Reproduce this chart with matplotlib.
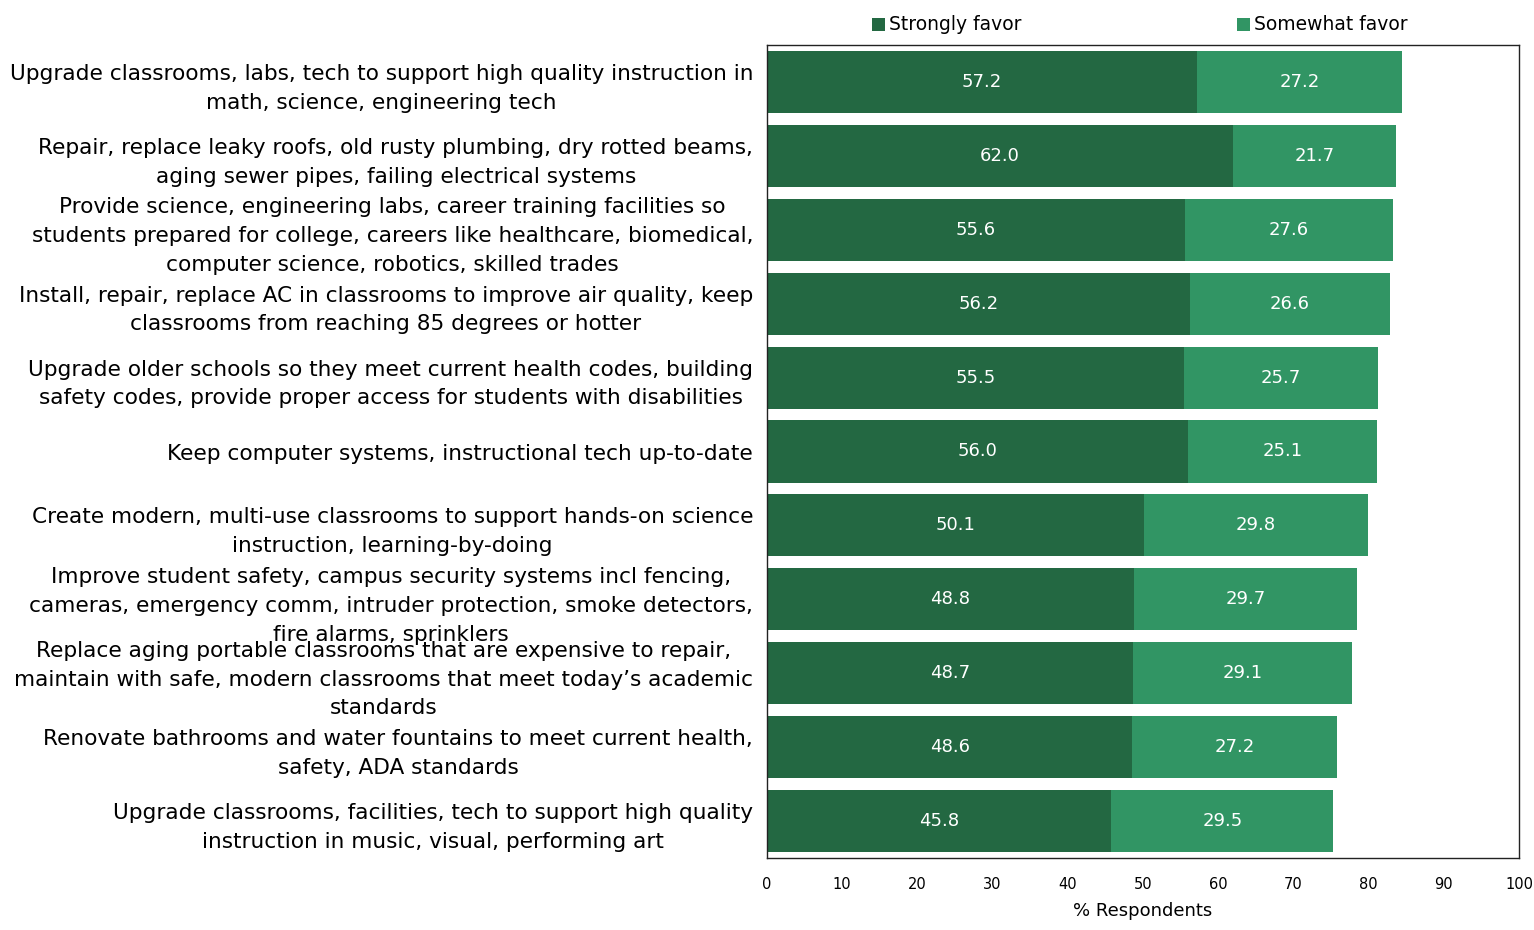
import matplotlib
matplotlib.use("Agg")
import matplotlib.pyplot as plt
from matplotlib.patches import Rectangle

categories = [
    "Upgrade classrooms, labs, tech to support high quality instruction in\nmath, science, engineering tech",
    "Repair, replace leaky roofs, old rusty plumbing, dry rotted beams,\naging sewer pipes, failing electrical systems",
    "Provide science, engineering labs, career training facilities so\nstudents prepared for college, careers like healthcare, biomedical,\ncomputer science, robotics, skilled trades",
    "Install, repair, replace AC in classrooms to improve air quality, keep\nclassrooms from reaching 85 degrees or hotter",
    "Upgrade older schools so they meet current health codes, building\nsafety codes, provide proper access for students with disabilities",
    "Keep computer systems, instructional tech up-to-date",
    "Create modern, multi-use classrooms to support hands-on science\ninstruction, learning-by-doing",
    "Improve student safety, campus security systems incl fencing,\ncameras, emergency comm, intruder protection, smoke detectors,\nfire alarms, sprinklers",
    "Replace aging portable classrooms that are expensive to repair,\nmaintain with safe, modern classrooms that meet today\u2019s academic\nstandards",
    "Renovate bathrooms and water fountains to meet current health,\nsafety, ADA standards",
    "Upgrade classrooms, facilities, tech to support high quality\ninstruction in music, visual, performing art",
]
strongly = [57.2, 62.0, 55.6, 56.2, 55.5, 56.0, 50.1, 48.8, 48.7, 48.6, 45.8]
somewhat = [27.2, 21.7, 27.6, 26.6, 25.7, 25.1, 29.8, 29.7, 29.1, 27.2, 29.5]
series_names = ["Strongly favor", "Somewhat favor"]
x_ticks = [0, 10, 20, 30, 40, 50, 60, 70, 80, 90, 100]

dark = "#236842"
light = "#319564"

W, H = 1534, 930
fig = plt.figure(figsize=(W / 100, H / 100), dpi=100)
ax = fig.add_axes([767 / W, 1 - 858 / H, (1519 - 767) / W, (858 - 45) / H])

y = list(range(len(categories)))
b1 = ax.barh(y, strongly, height=0.84, color=dark)
b2 = ax.barh(y, somewhat, left=strongly, height=0.84, color=light)

for bars, vals in ((b1, strongly), (b2, somewhat)):
    for rect, v in zip(bars, vals):
        ax.text(rect.get_x() + rect.get_width() / 2, rect.get_y() + rect.get_height() / 2,
                f"{v:.1f}", ha="center", va="center", color="white", fontsize=13)

ax.set_xlim(0, 100)
ax.set_ylim(len(categories) - 0.5, -0.5)
ax.set_xticks(x_ticks)
ax.set_xticklabels([str(t) for t in x_ticks], fontsize=10.5)
ax.tick_params(axis="x", length=0, pad=14)
ax.set_yticks(y)
ax.set_yticklabels(categories, fontsize=15.6, linespacing=1.55, multialignment="center")
ax.tick_params(axis="y", length=0, pad=10)
ax.set_xlabel("% Respondents", fontsize=13, labelpad=7)
for s in ax.spines.values():
    s.set_color("#222222")
    s.set_linewidth(1.0)

# legend: colored squares with labels above the plot
for x0, color, name in ((872, dark, series_names[0]), (1237, light, series_names[1])):
    fig.add_artist(Rectangle((x0 / W, 1 - 31 / H), 13 / W, 13 / H,
                             transform=fig.transFigure, color=color, lw=0))
    fig.text((x0 + 17) / W, 1 - 24 / H, name, fontsize=13.5, ha="left", va="center")

fig.savefig("out.png", dpi=100)
